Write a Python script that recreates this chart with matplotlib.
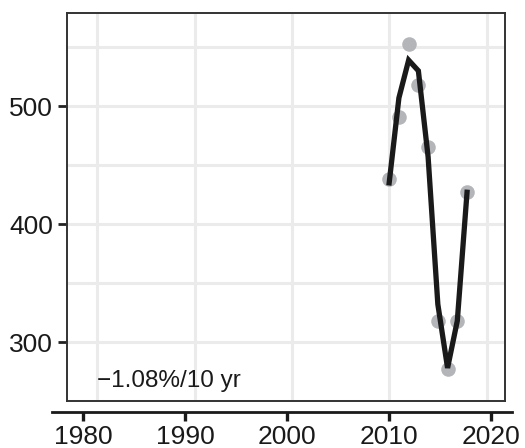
import matplotlib.pyplot as plt
import numpy as np

plt.rcParams['font.family'] = ['Liberation Sans', 'DejaVu Sans']

years = [2010, 2011, 2012, 2013, 2014, 2015, 2016, 2017, 2018]
observed = [438, 491, 553, 518, 465, 318, 277, 318, 427]
smoothed = [435, 507, 539, 530, 457, 332, 278, 318, 427]
trend_label = "\u22121.08%/10 yr"

W, H = 525, 448
fig = plt.figure(figsize=(W / 100, H / 100), dpi=100)

# main panel (pixel box 67..505 x 13..401)
ax = fig.add_axes([67 / W, (H - 401) / H, (505 - 67) / W, (401 - 13) / H])
ax.set_xlim(1976.9, 2021.9)
ax.set_ylim(250, 579)
ax.set_xticks([1980, 1990, 2000, 2010, 2020])
ax.set_yticks(np.arange(250, 600, 50), minor=True)
ax.set_yticks([300, 400, 500])
ax.grid(True, which='both', color='#ebebeb', linewidth=2.2, zorder=0)
ax.tick_params(axis='x', bottom=False, labelbottom=False)
ax.tick_params(axis='y', which='major', length=6.5, width=2.0, color='#222222',
               labelsize=19, pad=3.5, labelcolor='#1a1a1a')
ax.tick_params(axis='y', which='minor', length=0)
for s in ax.spines.values():
    s.set_color('#333333')
    s.set_linewidth(1.4)

ax.scatter(years, observed, s=110, color='#b3b5b9', zorder=2, linewidths=0)
ax.plot(years, smoothed, color='#1a1a1a', linewidth=3.8, zorder=3,
        solid_joinstyle='miter')
ax.text(0.068, 0.036, trend_label, transform=ax.transAxes, fontsize=17.5,
        ha='left', va='baseline', color='#1a1a1a')

# separate bottom axis (spine at y=411, x 52..512)
bx = fig.add_axes([52 / W, (H - 411.5) / H, (512 - 52) / W, 0.001])
bx.set_xlim(1976.96, 2022.06)
bx.set_xticks([1980, 1990, 2000, 2010, 2020])
bx.set_yticks([])
for k in ['top', 'left', 'right']:
    bx.spines[k].set_visible(False)
bx.spines['bottom'].set_linewidth(2.0)
bx.spines['bottom'].set_color('#1a1a1a')
bx.tick_params(axis='x', length=6.5, width=2.4, color='#1a1a1a',
               labelsize=19, pad=3, labelcolor='#1a1a1a')
bx.patch.set_alpha(0)

fig.savefig('out.png', dpi=100)
